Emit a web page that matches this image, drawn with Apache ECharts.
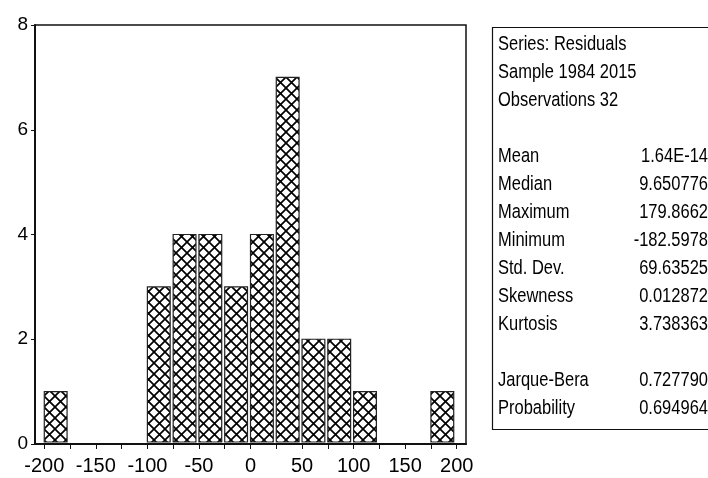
<!DOCTYPE html>
<html>
<head>
<meta charset="utf-8">
<script src="https://cdn.jsdelivr.net/npm/echarts@6/dist/echarts.min.js"></script>
<style>
  html, body { margin: 0; padding: 0; background: #fff; }
  #chart { width: 708px; height: 478px; }
</style>
</head>
<body>
<div id="chart"></div>
<script>
// Histogram of residuals: bin lower edges (width 25) and counts
const binWidth = 25;
const binStarts = [-200, -100, -75, -50, -25, 0, 25, 50, 75, 100, 175];
const binCounts = [1, 3, 4, 4, 3, 4, 7, 2, 2, 1, 1];

// Axis ticks
const xLabelTicks = [-200, -150, -100, -50, 0, 50, 100, 150, 200];
const xMinorTicks = [-200, -175, -150, -125, -100, -75, -50, -25, 0, 25, 50, 75, 100, 125, 150, 175, 200];

// Descriptive statistics
const headerLines = ['Series: Residuals', 'Sample 1984 2015', 'Observations 32'];
const statNames = ['Mean', 'Median', 'Maximum', 'Minimum', 'Std. Dev.', 'Skewness', 'Kurtosis'];
const statValues = ['1.64E-14', '9.650776', '179.8662', '-182.5978', '69.63525', '0.012872', '3.738363'];
const testNames = ['Jarque-Bera', 'Probability'];
const testValues = ['0.727790', '0.694964'];

const FONT = '"Liberation Sans", Arial, sans-serif';

// Cross-hatch fill tile
function makeHatch() {
  const s = 11;
  const c = document.createElement('canvas');
  c.width = s; c.height = s;
  const g = c.getContext('2d');
  g.fillStyle = '#fff';
  g.fillRect(0, 0, s, s);
  g.strokeStyle = '#000';
  g.lineWidth = 1.7;
  g.beginPath();
  g.moveTo(-1, -1); g.lineTo(s + 1, s + 1);
  g.moveTo(s + 1, -1); g.lineTo(-1, s + 1);
  g.stroke();
  return c;
}
const hatch = makeHatch();

const barData = binStarts.map((b, i) => [b, b + binWidth, binCounts[i]]);

// Statistics panel (text slightly stretched vertically, as in EViews output)
const panel = [];
const rowH = 28;
const top0 = 45;
const labX = 498, valX = 708;
function panelText(t, x, y, align) {
  return { type: 'text', x: x, y: y, scaleY: 1.18,
    style: { text: t, font: '16.5px ' + FONT, fill: '#000', textAlign: align, textVerticalAlign: 'middle' } };
}
headerLines.forEach((t, i) => panel.push(panelText(t, labX, top0 + i * rowH, 'left')));
statNames.forEach((t, i) => {
  const y = top0 + (i + 4) * rowH;
  panel.push(panelText(t, labX, y, 'left'));
  panel.push(panelText(statValues[i], valX, y, 'right'));
});
testNames.forEach((t, i) => {
  const y = top0 + (i + 12) * rowH;
  panel.push(panelText(t, labX, y, 'left'));
  panel.push(panelText(testValues[i], valX, y, 'right'));
});

const chart = echarts.init(document.getElementById('chart'), null, { renderer: 'canvas' });
chart.setOption({
  animation: false,
  backgroundColor: '#fff',
  grid: {
    left: 35, right: 242, top: 25, bottom: 34,
    show: true, borderColor: '#111', borderWidth: 1.5, backgroundColor: 'transparent'
  },
  xAxis: {
    type: 'value', min: -209, max: 209,
    splitLine: { show: false },
    axisLine: { show: true, onZero: false, lineStyle: { color: '#111', width: 2 } },
    axisTick: { show: true, inside: false, length: 5, customValues: xMinorTicks, lineStyle: { color: '#111' } },
    axisLabel: { customValues: xLabelTicks, margin: 12, color: '#000', fontSize: 20, fontFamily: FONT }
  },
  yAxis: {
    type: 'value', min: 0, max: 8, interval: 2,
    splitLine: { show: false },
    axisLine: { show: true, onZero: false, lineStyle: { color: '#111', width: 2 } },
    axisTick: { show: true, length: 4, lineStyle: { color: '#111' } },
    axisLabel: { margin: 7, color: '#000', fontSize: 19, fontFamily: FONT, padding: [0, 0, 4, 0] }
  },
  series: [{
    type: 'custom',
    data: barData,
    encode: { x: [0, 1], y: 2 },
    renderItem: function (params, api) {
      const p0 = api.coord([api.value(0), api.value(2)]);
      const p1 = api.coord([api.value(1), 0]);
      return {
        type: 'rect',
        shape: { x: p0[0], y: p0[1], width: p1[0] - p0[0] - 3, height: p1[1] - p0[1] - 2 },
        style: { fill: { image: hatch, repeat: 'repeat' }, stroke: '#222', lineWidth: 1.2 }
      };
    }
  }],
  graphic: [
    { type: 'rect', shape: { x: 492.5, y: 27.5, width: 240, height: 402 },
      style: { fill: '#fff', stroke: '#111', lineWidth: 1.2 } },
    ...panel
  ]
});
</script>
</body>
</html>
